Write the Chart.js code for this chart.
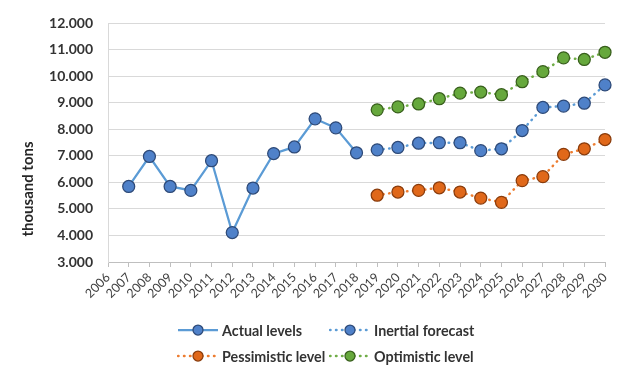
<!DOCTYPE html>
<html>
<head>
<meta charset="utf-8">
<script src="https://cdn.jsdelivr.net/npm/chart.js@4.4.0/dist/chart.umd.min.js"></script>
<style>
    html, body { margin: 0; padding: 0; background: #fff; }
    #wrap { position: relative; width: 643px; height: 372px; }
    #legend {
        position: absolute; left: 177px; top: 317px;
        display: grid; grid-template-columns: 152px auto; grid-auto-rows: 26px;
        font: bold 14.3px Lato, sans-serif; color: #333;
    }
    .item { display: flex; align-items: center; white-space: nowrap; }
    .item canvas { margin-right: 3px; }
</style>
</head>
<body>
<div id="wrap">
    <canvas id="myChart" width="643" height="372"></canvas>
    <div id="legend"></div>
</div>

<script>
    // years on the category axis (2006 has no data)
    var years = ["2006", "2007", "2008", "2009", "2010", "2011", "2012", "2013", "2014", "2015", "2016", "2017", "2018",
                 "2019", "2020", "2021", "2022", "2023", "2024", "2025", "2026", "2027", "2028", "2029", "2030"];

    var actualLevels = [null, 5850, 6980, 5850, 5700, 6820, 4110, 5790, 7090, 7340, 8400, 8060, 7120,
                        null, null, null, null, null, null, null, null, null, null, null, null];
    var inertialForecast = [null, null, null, null, null, null, null, null, null, null, null, null, null,
                            7230, 7320, 7480, 7500, 7500, 7200, 7270, 7960, 8830, 8880, 8990, 9680];
    var pessimisticLevel = [null, null, null, null, null, null, null, null, null, null, null, null, null,
                            5520, 5640, 5700, 5800, 5640, 5410, 5250, 6070, 6220, 7060, 7270, 7620];
    var optimisticLevel = [null, null, null, null, null, null, null, null, null, null, null, null, null,
                           8740, 8850, 8960, 9160, 9370, 9410, 9310, 9800, 10180, 10700, 10640, 10910];

    var seriesNames = ["Actual levels", "Inertial forecast", "Pessimistic level", "Optimistic level"];
    var yAxisTitle = "thousand tons";
    var yMin = 3000, yMax = 12000, yStep = 1000;

    function fmt(v) {
        return String(v).replace(/\B(?=(\d{3})+(?!\d))/g, ".");
    }

    function series(label, data, line, fill, edge, dotted) {
        return {
            label: label,
            data: data,
            borderColor: line,
            borderWidth: dotted ? 2.5 : 2.25,
            borderDash: dotted ? [0.5, 5.5] : [],
            borderCapStyle: dotted ? "round" : "butt",
            pointRadius: 6,
            pointHoverRadius: 6,
            pointBackgroundColor: fill,
            pointBorderColor: edge,
            pointBorderWidth: 1.25,
            tension: 0,
            spanGaps: false
        };
    }

    // rotated y axis title, placed like the original
    var yTitle = {
        id: "yTitle",
        afterDraw: function (chart) {
            var ctx = chart.ctx;
            ctx.save();
            ctx.translate(28, 189);
            ctx.rotate(-Math.PI / 2);
            ctx.font = "bold 15px Lato, sans-serif";
            ctx.fillStyle = "#262626";
            ctx.textAlign = "center";
            ctx.textBaseline = "middle";
            ctx.fillText(yAxisTitle, 0, 0);
            ctx.restore();
        }
    };

    Chart.defaults.font.family = "Lato, 'Open Sans', sans-serif";

    var chart = new Chart("myChart", {
        type: "line",
        data: {
            labels: years,
            datasets: [
                series(seriesNames[0], actualLevels, "#5B9BD5", "#4F81C9", "#2E4A78", false),
                series(seriesNames[1], inertialForecast, "#5B9BD5", "#4F81C9", "#2E4A78", true),
                series(seriesNames[2], pessimisticLevel, "#ED7D31", "#E0681A", "#8A3C0C", true),
                series(seriesNames[3], optimisticLevel, "#70AD47", "#66A83C", "#385F1C", true)
            ]
        },
        options: {
            responsive: false,
            animation: false,
            layout: { padding: { top: 17, right: 38, left: 0, bottom: 0 } },
            plugins: {
                legend: { display: false },
                tooltip: { enabled: false }
            },
            scales: {
                x: {
                    offset: false,
                    grid: { display: true, drawOnChartArea: false, drawTicks: true, tickLength: 5, color: "#BFBFBF" },
                    border: { display: true, color: "#BFBFBF" },
                    ticks: { autoSkip: false, maxRotation: 45, minRotation: 45, padding: 3, color: "#404040", font: { size: 12.5 } },
                    afterFit: function (scale) { scale.height = 110; }
                },
                y: {
                    min: yMin,
                    max: yMax,
                    grid: { color: "#D9D9D9", drawTicks: false },
                    border: { display: true, color: "#D9D9D9" },
                    ticks: {
                        stepSize: yStep,
                        padding: 15,
                        color: "#333",
                        font: { size: 14, weight: "bold" },
                        callback: function (v) { return fmt(v); }
                    },
                    afterFit: function (scale) { scale.width = 108; }
                }
            }
        },
        plugins: [yTitle]
    });

    // legend in two rows, like the original
    var legend = document.getElementById("legend");
    chart.data.datasets.forEach(function (ds) {
        var item = document.createElement("div");
        item.className = "item";
        var c = document.createElement("canvas");
        c.width = 42; c.height = 16;
        var g = c.getContext("2d");
        g.strokeStyle = ds.borderColor;
        g.lineWidth = ds.borderWidth;
        g.lineCap = ds.borderCapStyle;
        g.setLineDash(ds.borderDash);
        g.beginPath(); g.moveTo(1, 8); g.lineTo(41, 8); g.stroke();
        g.setLineDash([]);
        g.beginPath(); g.arc(21, 8, 5, 0, Math.PI * 2);
        g.fillStyle = ds.pointBackgroundColor; g.fill();
        g.lineWidth = ds.pointBorderWidth; g.strokeStyle = ds.pointBorderColor; g.stroke();
        var t = document.createElement("span");
        t.textContent = ds.label;
        item.appendChild(c);
        item.appendChild(t);
        legend.appendChild(item);
    });
</script>
</body>
</html>
